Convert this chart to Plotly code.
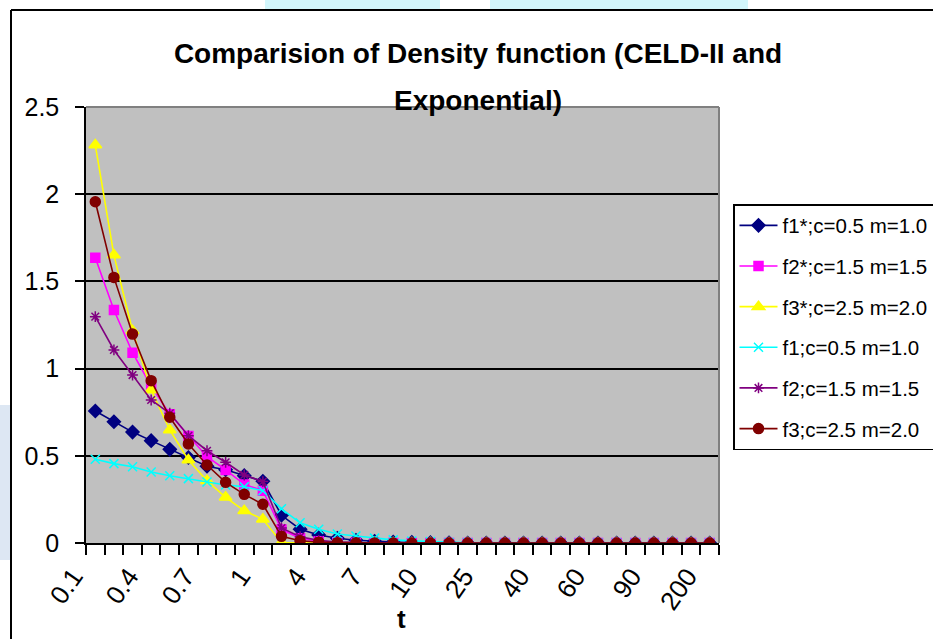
import plotly.graph_objects as go

categories = ["0.1", "0.2", "0.3", "0.4", "0.5", "0.6", "0.7", "0.8", "0.9", "1",
              "2", "3", "4", "5", "6", "7", "8", "9", "10",
              "15", "20", "25", "30", "35", "40", "45", "50", "60", "70", "80", "90",
              "100", "150", "200"]

f1_star = [0.757, 0.695, 0.636, 0.587, 0.537, 0.490, 0.440, 0.420, 0.386, 0.354,
           0.159, 0.079, 0.046, 0.027, 0.016, 0.010, 0.006, 0.004, 0.002,
           0.001, 0, 0, 0, 0, 0, 0, 0, 0, 0, 0, 0, 0, 0, 0]
f2_star = [1.636, 1.336, 1.091, 0.900, 0.738, 0.614, 0.495, 0.419, 0.336, 0.300,
           0.077, 0.027, 0.010, 0.004, 0.001, 0, 0, 0, 0,
           0, 0, 0, 0, 0, 0, 0, 0, 0, 0, 0, 0, 0, 0, 0]
f3_star = [2.282, 1.651, 1.217, 0.877, 0.648, 0.476, 0.357, 0.262, 0.185, 0.136,
           0.003, 0, 0, 0, 0, 0, 0, 0, 0,
           0, 0, 0, 0, 0, 0, 0, 0, 0, 0, 0, 0, 0, 0, 0]
f1 = [0.480, 0.455, 0.437, 0.407, 0.386, 0.369, 0.350, 0.333, 0.323, 0.300,
      0.196, 0.116, 0.079, 0.052, 0.040, 0.028, 0.018, 0.012, 0.008,
      0.003, 0.001, 0, 0, 0, 0, 0, 0, 0, 0, 0, 0, 0, 0, 0]
f2 = [1.298, 1.107, 0.963, 0.820, 0.744, 0.615, 0.529, 0.463, 0.390, 0.352,
      0.086, 0.036, 0.015, 0.006, 0.002, 0.001, 0, 0, 0,
      0, 0, 0, 0, 0, 0, 0, 0, 0, 0, 0, 0, 0, 0, 0]
f3 = [1.957, 1.523, 1.198, 0.931, 0.721, 0.568, 0.447, 0.348, 0.279, 0.222,
      0.038, 0.013, 0.005, 0.002, 0.001, 0, 0, 0, 0,
      0, 0, 0, 0, 0, 0, 0, 0, 0, 0, 0, 0, 0, 0, 0]

series_names = ["f1*;c=0.5 m=1.0", "f2*;c=1.5 m=1.5", "f3*;c=2.5 m=2.0",
                "f1;c=0.5 m=1.0", "f2;c=1.5 m=1.5", "f3;c=2.5 m=2.0"]
series_values = [f1_star, f2_star, f3_star, f1, f2, f3]
colors = ["#000080", "#FF00FF", "#FFFF00", "#00FFFF", "#800080", "#800000"]
symbols = ["diamond", "square", "triangle-up", "x-thin-open", "asterisk-open", "circle"]
sizes = [10, 9, 11, 9, 9, 10]

title_line1 = "Comparision of Density function (CELD-II and"
title_line2 = "Exponential)"
x_title = "t"

FONT = "Liberation Sans, Arial, sans-serif"
W, H = 933, 639
L, R, T, B = 86, 719, 107, 543

xidx = list(range(len(categories)))

fig = go.Figure()
for name, vals, col, sym, sz in zip(series_names, series_values, colors, symbols, sizes):
    fig.add_trace(go.Scatter(
        x=xidx, y=vals, name=name, mode="lines+markers", legendgroup=name,
        line=dict(color=col, width=1.6),
        marker=dict(symbol=sym, size=sz, color=col, line=dict(color=col, width=1.5)),
    ))

label_idx = list(range(0, len(categories), 3))

fig.update_layout(
    width=W, height=H,
    margin=dict(l=L, r=W - R, t=T, b=H - B, autoexpand=False),
    paper_bgcolor="white", plot_bgcolor="#C0C0C0",
    font=dict(family=FONT, color="black"),
    title=dict(text="<b>" + title_line1 + "</b>", x=478 / W, xanchor="center",
               y=1 - 53 / H, yanchor="middle", xref="container", yref="container",
               font=dict(size=28, family=FONT, color="black")),
    showlegend=True,
    legend=dict(x=(733 - L) / (R - L), xanchor="left", y=(B - 204) / (B - T), yanchor="top",
                bgcolor="white", bordercolor="black", borderwidth=1.5,
                font=dict(size=20.5, family=FONT, color="black"),
                itemwidth=38,
                traceorder="grouped", tracegroupgap=11),
    xaxis=dict(range=[-0.5, len(categories) - 0.5], showgrid=False, zeroline=False,
               showline=True, linecolor="black", linewidth=1.5,
               tickmode="array", tickvals=label_idx,
               ticktext=[categories[i] for i in label_idx],
               ticks="", tickangle=-55, ticklabelstandoff=6, ticklabelshift=-22,
               tickfont=dict(size=26, family=FONT, color="black"),
               minor=dict(tickmode="linear", tick0=-0.5, dtick=1, ticks="outside",
                          ticklen=10, tickwidth=1.5, tickcolor="black", showgrid=False)),
    yaxis=dict(range=[0, 2.5], dtick=0.5, tick0=0, showgrid=True, gridcolor="black",
               gridwidth=1.5, zeroline=False, showline=True, linecolor="black", linewidth=1.5,
               ticks="outside", ticklen=9, tickwidth=1.5, tickcolor="black",
               ticklabelstandoff=11,
               tickfont=dict(size=25, family=FONT, color="black")),
)

# plot-area border (top/right gray)
fig.add_shape(type="line", xref="paper", yref="paper", x0=0, x1=1, y0=1, y1=1,
              line=dict(color="#808080", width=2), layer="above")
fig.add_shape(type="line", xref="paper", yref="paper", x0=1, x1=1, y0=0, y1=1,
              line=dict(color="#808080", width=2), layer="above")

def px_x(p):
    return (p - L) / (R - L)

def px_y(p):
    return (B - p) / (B - T)

# page background behind the chart frame
fig.add_shape(type="rect", xref="paper", yref="paper", x0=px_x(265), x1=px_x(440),
              y0=px_y(9), y1=px_y(-2), fillcolor="#D2F6FB", line=dict(width=0), layer="below")
fig.add_shape(type="rect", xref="paper", yref="paper", x0=px_x(490), x1=px_x(748),
              y0=px_y(9), y1=px_y(-2), fillcolor="#D2F6FB", line=dict(width=0), layer="below")
fig.add_shape(type="rect", xref="paper", yref="paper", x0=px_x(-2), x1=px_x(10),
              y0=px_y(560), y1=px_y(405), fillcolor="#DDE7F3", line=dict(width=0), layer="below")

# chart frame (black)
fig.add_shape(type="line", xref="paper", yref="paper", x0=px_x(11), x1=px_x(11),
              y0=px_y(10), y1=px_y(660), line=dict(color="black", width=2))
fig.add_shape(type="line", xref="paper", yref="paper", x0=px_x(11), x1=px_x(960),
              y0=px_y(10), y1=px_y(10), line=dict(color="black", width=2))

fig.add_annotation(text="<b>" + title_line2 + "</b>", xref="paper", yref="paper",
                   x=px_x(478), y=px_y(101), xanchor="center", yanchor="middle",
                   showarrow=False, font=dict(size=28, family=FONT, color="black"))
fig.add_annotation(text="<b>" + x_title + "</b>", xref="paper", yref="paper",
                   x=px_x(401), y=px_y(619), xanchor="center", yanchor="middle",
                   showarrow=False, font=dict(size=26, family=FONT, color="black"))

fig.write_html("out.html")
